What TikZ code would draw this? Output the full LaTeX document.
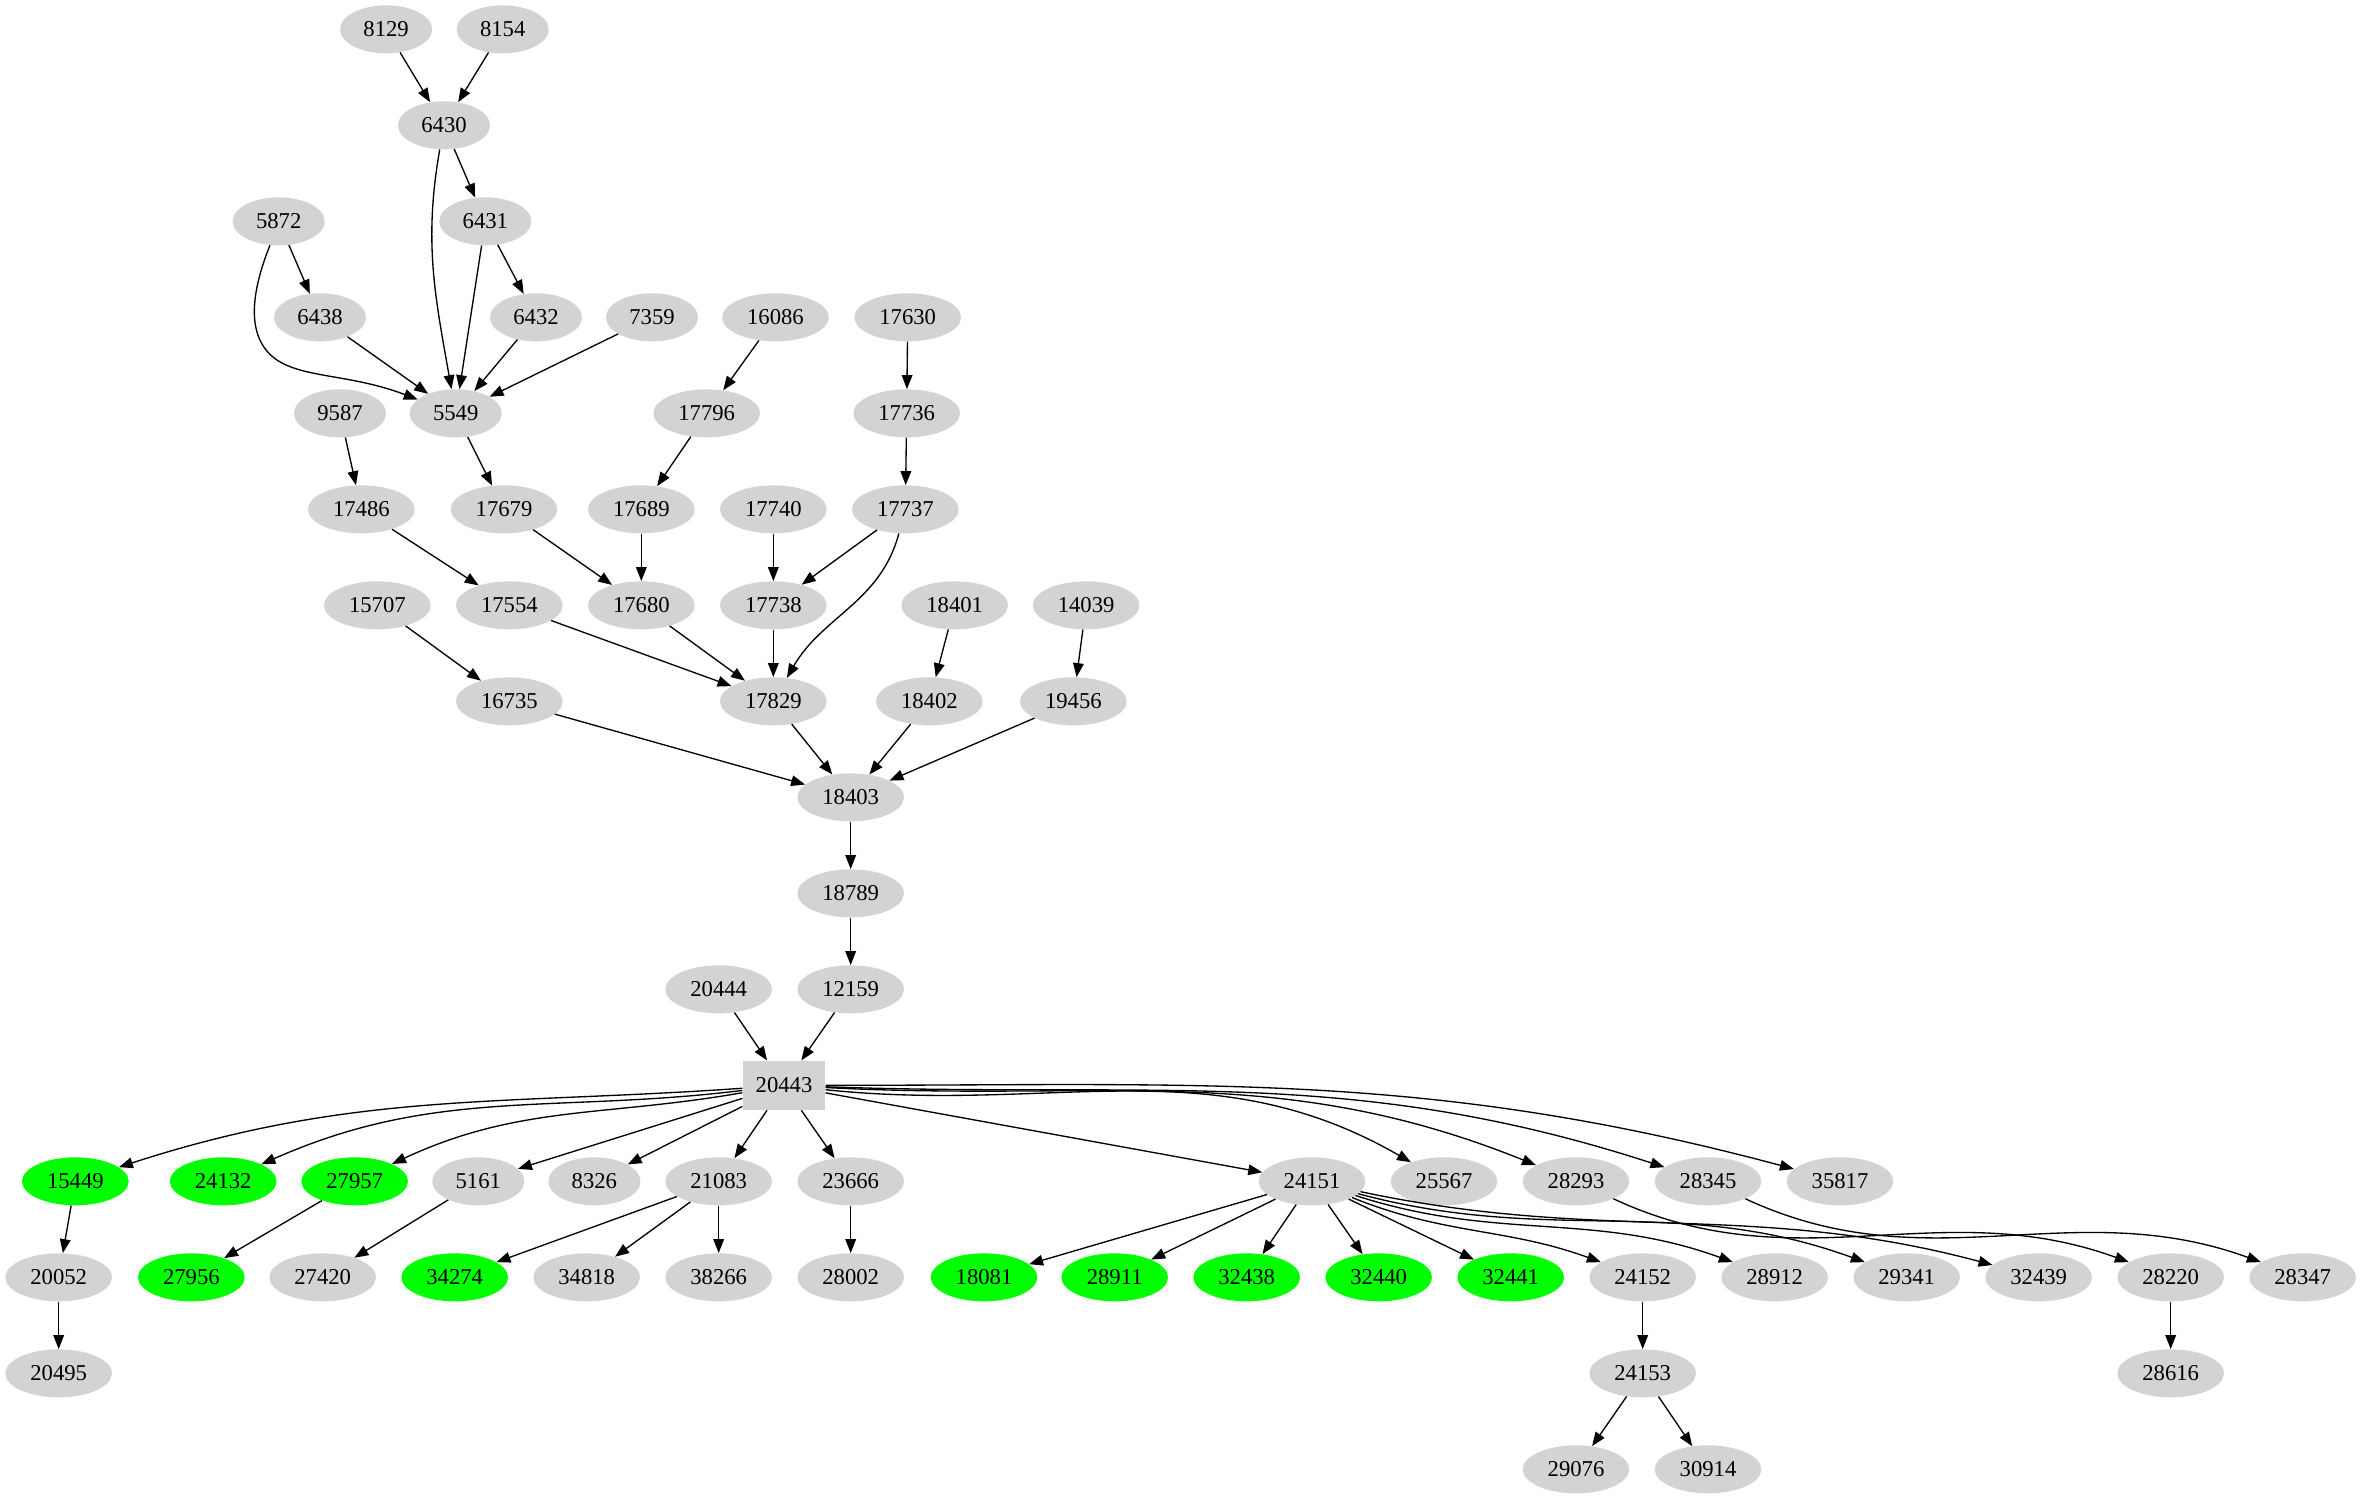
\documentclass[tikz,border=0pt]{standalone}
\usepackage{fontspec}
\setmainfont{Liberation Serif}
\usetikzlibrary{shapes.geometric,arrows.meta}
\definecolor{nodegray}{HTML}{D3D3D3}
\definecolor{nodegreen}{HTML}{00FF00}

\begin{document}
\begin{tikzpicture}[x=1pt,y=1pt,
		font=\fontsize{17}{20}\selectfont,
		nd/.style={ellipse,fill=nodegray,minimum width=80pt,minimum height=36pt,inner sep=0pt},
		nds/.style={nd,minimum width=69pt},
		ok/.style={nd,fill=nodegreen},
		hub/.style={rectangle,fill=nodegray,minimum width=62pt,minimum height=37pt,inner sep=0pt},
		arr/.style={-{Triangle[length=10.5pt,width=8pt]},line width=1pt}]
		\useasboundingbox (0,0) rectangle (1771.5,-1124.25);
		\begin{scope}
			% upper part
			\node[nds] (n8129) at (289.6,-22) {8129};
			\node[nds] (n8154) at (377,-22) {8154};
			\node[nds] (n6430) at (333,-94) {6430};
			\node[nds] (n5872) at (209,-166) {5872};
			\node[nds] (n6431) at (364,-166) {6431};
			\node[nds] (n6438) at (240,-238) {6438};
			\node[nds] (n6432) at (402,-238) {6432};
			\node[nds] (n7359) at (489,-238) {7359};
			\node[nd] (n16086) at (581.6,-238) {16086};
			\node[nd] (n17630) at (680.8,-238) {17630};
			\node[nds] (n9587) at (255,-310) {9587};
			\node[nds] (n5549) at (341.8,-310) {5549};
			\node[nd] (n17796) at (530,-310) {17796};
			\node[nd] (n17736) at (680,-310) {17736};
			\node[nd] (n17486) at (271,-382) {17486};
			\node[nd] (n17679) at (378,-382) {17679};
			\node[nd] (n17689) at (481,-382) {17689};
			\node[nd] (n17740) at (580,-382) {17740};
			\node[nd] (n17737) at (679,-382) {17737};
			\node[nd] (n15707) at (283,-454) {15707};
			\node[nd] (n17554) at (382,-454) {17554};
			\node[nd] (n17680) at (481,-454) {17680};
			\node[nd] (n17738) at (580,-454) {17738};
			\node[nd] (n18401) at (716,-454) {18401};
			\node[nd] (n14039) at (814.6,-454) {14039};
			\node[nd] (n16735) at (382,-526) {16735};
			\node[nd] (n17829) at (580,-526) {17829};
			\node[nd] (n18402) at (697,-526) {18402};
			\node[nd] (n19456) at (805,-526) {19456};
			\node[nd] (n18403) at (638,-598) {18403};
			\node[nd] (n18789) at (638,-670) {18789};
			\node[nd] (n20444) at (539,-742) {20444};
			\node[nd] (n12159) at (638,-742) {12159};
			\node[hub] (n20443) at (588,-814) {20443};

			\draw[arr] (n8129) to (n6430);
			\draw[arr] (n8154) to (n6430);
			\draw[arr] (n6430) to (n6431);
			\draw[arr] (n6430) to[out=-100,in=100] (n5549);
			\draw[arr] (n5872) to (n6438);
			\draw[arr] (n5872.-110) .. controls (190,-215) and (183,-250) .. (205,-268)
				.. controls (225,-284) and (262,-280) .. (n5549.160);
			\draw[arr] (n6431) to (n6432);
			\draw[arr] (n6431) to (n5549);
			\draw[arr] (n6438) to (n5549);
			\draw[arr] (n6432) to (n5549);
			\draw[arr] (n7359) to (n5549);
			\draw[arr] (n16086) to (n17796);
			\draw[arr] (n17630) to (n17736);
			\draw[arr] (n9587) to (n17486);
			\draw[arr] (n5549) to (n17679);
			\draw[arr] (n17796) to (n17689);
			\draw[arr] (n17736) to (n17737);
			\draw[arr] (n17486) to (n17554);
			\draw[arr] (n17679) to (n17680);
			\draw[arr] (n17689) to (n17680);
			\draw[arr] (n17740) to (n17738);
			\draw[arr] (n17737) to (n17738);
			\draw[arr] (n17737) to[out=-105,in=60] (n17829);
			\draw[arr] (n15707) to (n16735);
			\draw[arr] (n17554) to (n17829);
			\draw[arr] (n17680) to (n17829);
			\draw[arr] (n17738) to (n17829);
			\draw[arr] (n18401) to (n18402);
			\draw[arr] (n14039) to (n19456);
			\draw[arr] (n16735) to (n18403);
			\draw[arr] (n17829) to (n18403);
			\draw[arr] (n18402) to (n18403);
			\draw[arr] (n19456) to (n18403);
			\draw[arr] (n18403) to (n18789);
			\draw[arr] (n18789) to (n12159);
			\draw[arr] (n20444) to (n20443);
			\draw[arr] (n12159) to (n20443);

			% lower part
			\node[ok] (n15449) at (56.5,-886) {15449};
			\node[ok] (n24132) at (167.4,-886) {24132};
			\node[ok] (n27957) at (266,-886) {27957};
			\node[nds] (n5161) at (358.7,-886) {5161};
			\node[nds] (n8326) at (445.8,-886) {8326};
			\node[nd] (n21083) at (539,-886) {21083};
			\node[nd] (n23666) at (638,-886) {23666};
			\node[nd] (n24151) at (984,-886) {24151};
			\node[nd] (n25567) at (1083,-886) {25567};
			\node[nd] (n28293) at (1182,-886) {28293};
			\node[nd] (n28345) at (1281,-886) {28345};
			\node[nd] (n35817) at (1380,-886) {35817};

			\node[nd] (n20052) at (44,-958) {20052};
			\node[ok] (n27956) at (143.5,-958) {27956};
			\node[nd] (n27420) at (242,-958) {27420};
			\node[ok] (n34274) at (341,-958) {34274};
			\node[nd] (n34818) at (440,-958) {34818};
			\node[nd] (n38266) at (539,-958) {38266};
			\node[nd] (n28002) at (638,-958) {28002};
			\node[ok] (n18081) at (738,-958) {18081};
			\node[ok] (n28911) at (836,-958) {28911};
			\node[ok] (n32438) at (935,-958) {32438};
			\node[ok] (n32440) at (1034,-958) {32440};
			\node[ok] (n32441) at (1133,-958) {32441};
			\node[nd] (n24152) at (1232,-958) {24152};
			\node[nd] (n28912) at (1331,-958) {28912};
			\node[nd] (n29341) at (1430,-958) {29341};
			\node[nd] (n32439) at (1529,-958) {32439};
			\node[nd] (n28220) at (1628,-958) {28220};
			\node[nd] (n28347) at (1727,-958) {28347};

			\node[nd] (n20495) at (44,-1030) {20495};
			\node[nd] (n24153) at (1232,-1030) {24153};
			\node[nd] (n28616) at (1628,-1030) {28616};
			\node[nd] (n29076) at (1182,-1102) {29076};
			\node[nd] (n30914) at (1281,-1102) {30914};

			\draw[arr] (n20443) to[out=184,in=18] (n15449);
			\draw[arr] (n20443) to[out=187,in=24] (n24132);
			\draw[arr] (n20443) to[out=190,in=25] (n27957);
			\draw[arr] (n20443) to (n5161);
			\draw[arr] (n20443) to (n8326);
			\draw[arr] (n20443) to (n21083);
			\draw[arr] (n20443) to (n23666);
			\draw[arr] (n20443) to (n24151);
			\draw[arr] (n20443) to[out=-6,in=150] (n25567);
			\draw[arr] (n20443) to[out=-3,in=158] (n28293);
			\draw[arr] (n20443) to[out=-2,in=162] (n28345);
			\draw[arr] (n20443) to[out=0,in=165] (n35817);

			\draw[arr] (n15449) to (n20052);
			\draw[arr] (n20052) to (n20495);
			\draw[arr] (n27957) to (n27956);
			\draw[arr] (n5161) to (n27420);
			\draw[arr] (n21083) to (n34274);
			\draw[arr] (n21083) to (n34818);
			\draw[arr] (n21083) to (n38266);
			\draw[arr] (n23666) to (n28002);
			\draw[arr] (n24151) to (n18081);
			\draw[arr] (n24151) to (n28911);
			\draw[arr] (n24151) to (n32438);
			\draw[arr] (n24151) to (n32440);
			\draw[arr] (n24151) to (n32441);
			\draw[arr] (n24151) to[out=-22,in=160] (n24152);
			\draw[arr] (n24151) to[out=-18,in=160] (n28912);
			\draw[arr] (n24151) to[out=-15,in=160] (n29341);
			\draw[arr] (n24151) to[out=-12,in=165] (n32439);
			\draw[arr] (n28293) to[out=-25,in=160] (n28220);
			\draw[arr] (n28345) to[out=-25,in=160] (n28347);
			\draw[arr] (n24152) to (n24153);
			\draw[arr] (n24153) to (n29076);
			\draw[arr] (n24153) to (n30914);
			\draw[arr] (n28220) to (n28616);
		\end{scope}
	\end{tikzpicture}
\end{document}
